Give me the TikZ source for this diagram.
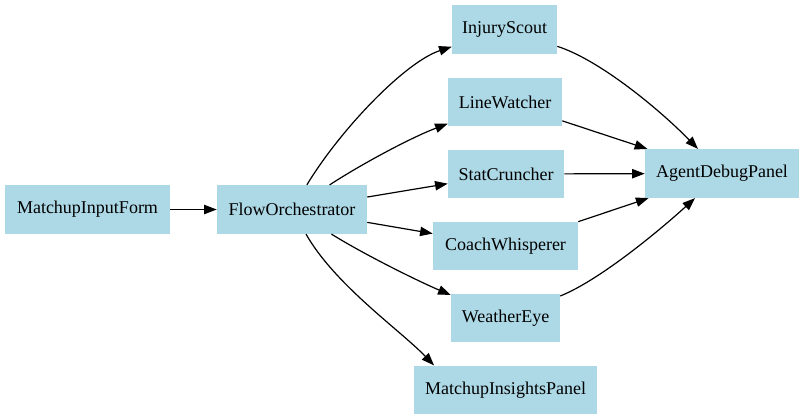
\documentclass[tikz,border=0pt]{standalone}
\usepackage{fontspec}
\setmainfont{Liberation Serif}
\usetikzlibrary{arrows.meta}
\begin{document}
\begin{tikzpicture}[x=0.75pt, y=-0.75pt,
        agent/.style={rectangle, fill=agentblue, minimum height=36.5pt, inner sep=0pt, font=\fontsize{13.5}{15}\selectfont},
        flow/.style={-{Triangle[length=9.5pt, width=7pt]}, black, line width=0.9pt}]
        \definecolor{agentblue}{HTML}{ADD8E6}
        \useasboundingbox (0,0) rectangle (804,419);
        % Nodes
        \node (mif) [agent, minimum width=165*0.75pt] at (87.5, 209.5) {MatchupInputForm};
        \node (fo) [agent, minimum width=150*0.75pt] at (292, 209.5) {FlowOrchestrator};
        \node (is) [agent, minimum width=105*0.75pt] at (504.5, 29.5) {InjuryScout};
        \node (lw) [agent, minimum width=114*0.75pt] at (505, 102) {LineWatcher};
        \node (sc) [agent, minimum width=116*0.75pt] at (506, 174) {StatCruncher};
        \node (cw) [agent, minimum width=145*0.75pt] at (505.5, 246) {CoachWhisperer};
        \node (we) [agent, minimum width=109*0.75pt] at (505.5, 318) {WeatherEye};
        \node (mip) [agent, minimum width=183*0.75pt] at (505.5, 390) {MatchupInsightsPanel};
        \node (adp) [agent, minimum width=154*0.75pt] at (722, 173.5) {AgentDebugPanel};

        % Edges
        \draw [flow] (mif) -- (fo);
        \draw [flow] (fo) .. controls (340, 130) and (405, 62) .. (is);
        \draw [flow] (fo) .. controls (360, 165) and (410, 138) .. (lw);
        \draw [flow] (fo) -- (sc);
        \draw [flow] (fo) -- (cw);
        \draw [flow] (fo) .. controls (365, 255) and (420, 282) .. (we);
        \draw [flow] (fo) .. controls (335, 285) and (400, 330) .. (mip.161.6);
        \draw [flow] (is) .. controls (600, 60) and (660, 110) .. (adp);
        \draw [flow] (lw) -- (adp);
        \draw [flow] (sc) -- (adp);
        \draw [flow] (cw) -- (adp);
        \draw [flow] (we) .. controls (600, 280) and (660, 230) .. (adp);

    \end{tikzpicture}
\end{document}
